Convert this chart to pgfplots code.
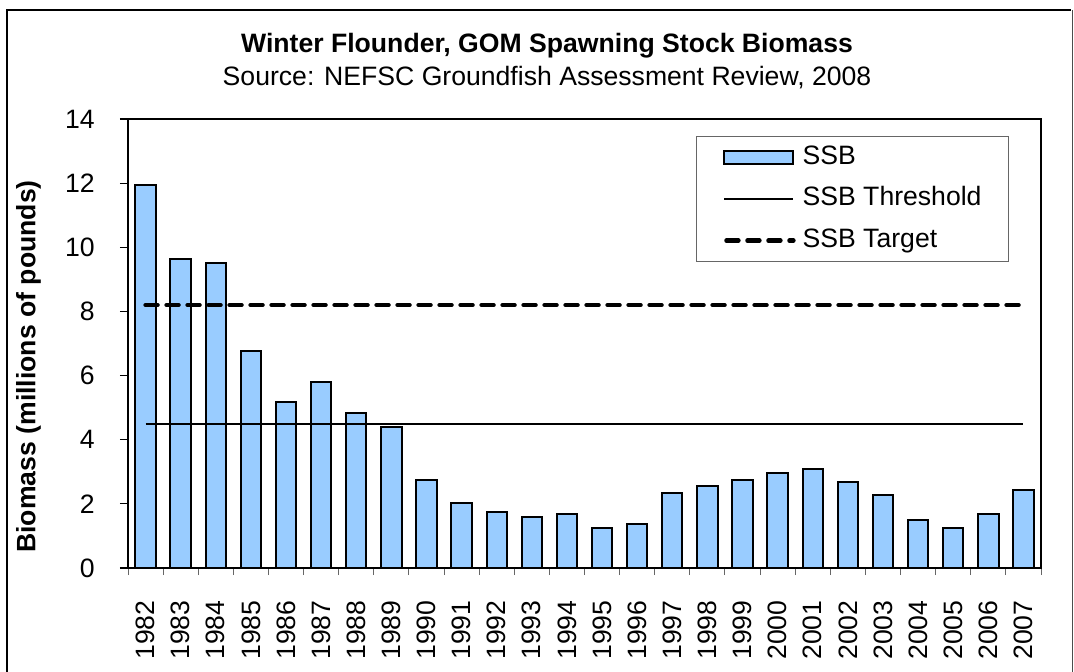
\documentclass[border=0pt]{standalone}
\usepackage{pgfplots}
\pgfplotsset{compat=1.18}
\usepackage{fontspec}
\setmainfont{Liberation Sans}
\definecolor{ssbblue}{HTML}{99CCFF}
\newcommand{\fs}{\fontsize{13.3pt}{16pt}\selectfont}
\pgfplotsset{
  barlegend/.style={legend image code/.code={\draw[fill=ssbblue, draw=black, line width=1pt] (0pt,-3.2pt) rectangle (34.5pt,3.2pt);}},
  linelegend/.style={legend image code/.code={\draw[##1] (0pt,0pt) -- (34.5pt,0pt);}},
  dashlegend/.style={legend image code/.code={\draw[##1] (1pt,0pt) -- (34.5pt,0pt);}},
}
\begin{document}
\begin{tikzpicture}
\useasboundingbox (-64pt,-51.5pt) rectangle (473pt,284pt);
\draw[line width=1.2pt] (-60.5pt,-60pt) -- (-60.5pt,279pt) -- (471.5pt,279pt);
\draw[line width=0.8pt, black!70] (472.3pt,279pt) -- (472.3pt,-60pt);
\begin{axis}[
  width=456.5pt, height=224.5pt, scale only axis,
  xmin=-0.5, xmax=25.5, ymin=0, ymax=14,
  ytick={0,2,...,14},
  xtick={0,...,25},
  xticklabels={1982,1983,1984,1985,1986,1987,1988,1989,1990,1991,1992,1993,1994,1995,1996,1997,1998,1999,2000,2001,2002,2003,2004,2005,2006,2007},
  minor xtick={-0.5,0.5,...,25.5},
  tick align=outside,
  xtick pos=bottom, ytick pos=left,
  major tick length=4pt,
  minor tick length=3.5pt,
  xtick style={draw=none},
  minor x tick style={draw=black!60, line width=0.5pt},
  ytick style={draw=black, line width=0.6pt},
  axis line style={line width=1pt},
  tick label style={font=\fs},
  /pgf/number format/assume math mode=true,
  xticklabel style={rotate=90, anchor=east, inner sep=0pt},
  yticklabel style={anchor=east, inner sep=0pt},
  xticklabel shift=12pt,
  yticklabel shift=12.5pt,
  ylabel={Biomass (millions of pounds)},
  ylabel style={font=\fs\bfseries, at={(axis description cs:-0.109,0.449)}, anchor=center, rotate=0},
  legend style={at={(rel axis cs:0.965,0.962)}, anchor=north east,
    draw=black!60, line width=0.5pt, font=\fs,
    nodes={inner sep=0pt, text height=9.6pt, text depth=2.8pt},
    row sep=8.35pt, column sep=3.5pt,
    inner xsep=13.5pt, inner ysep=4.3pt},
  legend cell align=left,
  clip=false,
]
\addplot[ybar, bar width=0.58, fill=ssbblue, draw=black, line width=1pt, barlegend]
  coordinates {
  (0,11.94) (1,9.65) (2,9.50) (3,6.76) (4,5.18) (5,5.79) (6,4.83) (7,4.39)
  (8,2.74) (9,2.03) (10,1.74) (11,1.58) (12,1.68) (13,1.26) (14,1.37)
  (15,2.35) (16,2.55) (17,2.75) (18,2.96) (19,3.09) (20,2.68) (21,2.27)
  (22,1.50) (23,1.26) (24,1.67) (25,2.42)};
\addlegendentry{SSB}
\addplot[black, line width=1pt, linelegend]
  coordinates {(0,4.5) (25,4.5)};
\addlegendentry{SSB Threshold}
\addplot[black, line width=2.2pt, line cap=round, dash pattern=on 6pt off 4.5pt, dashlegend]
  coordinates {(0,8.2) (25,8.2)};
\addlegendentry{SSB Target}
\end{axis}
\node[font=\fs\bfseries] at (209.5pt,261pt) {Winter Flounder, GOM Spawning Stock Biomass};
\node[font=\fs] at (209.5pt,245pt) {Source: NEFSC Groundfish Assessment Review, 2008};
\end{tikzpicture}
\end{document}
